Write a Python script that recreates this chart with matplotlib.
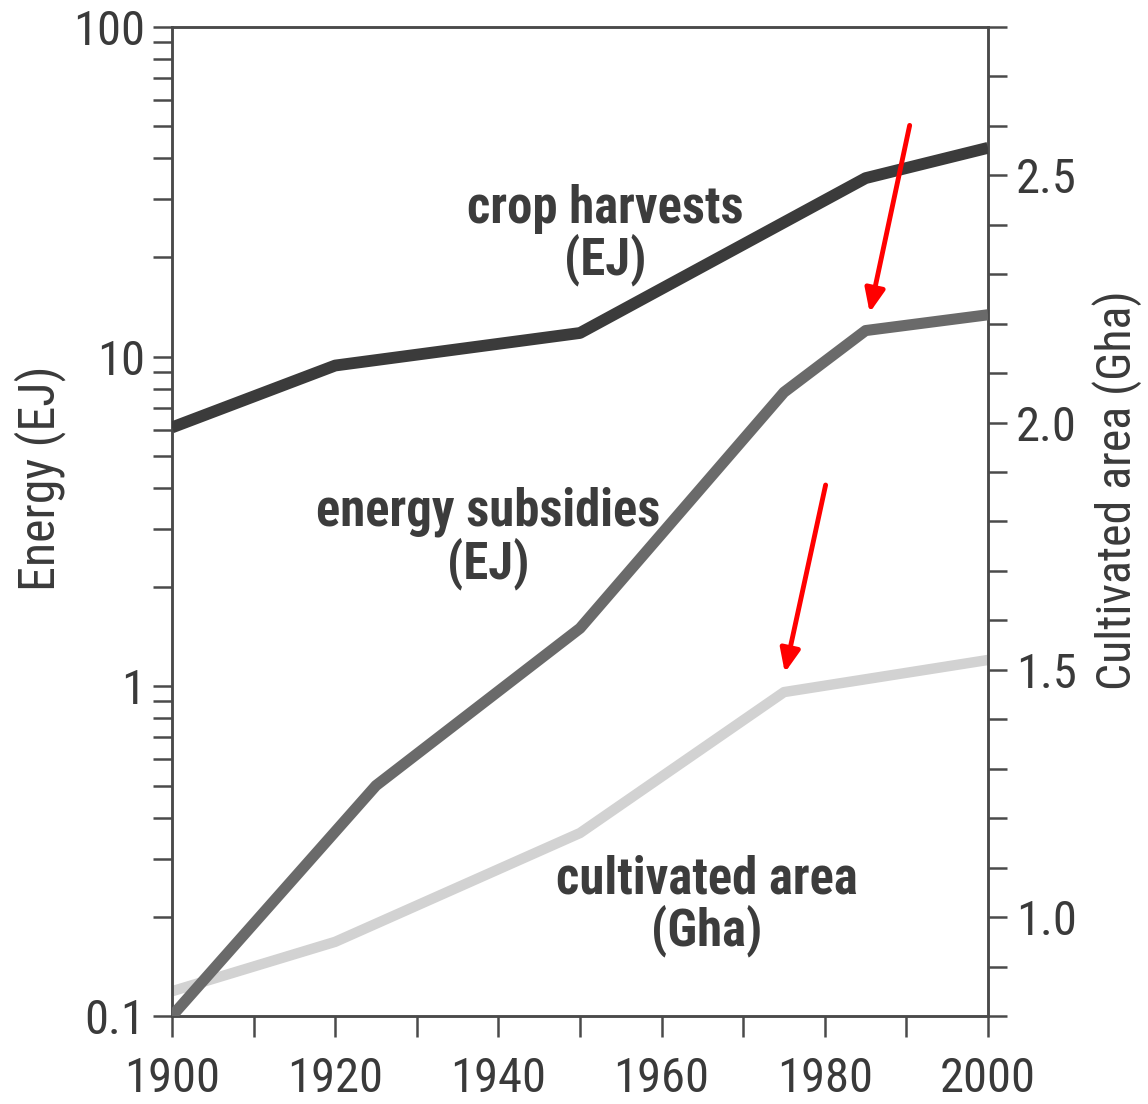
import matplotlib
matplotlib.use("Agg")
import matplotlib.pyplot as plt
import matplotlib.ticker as mticker
import numpy as np

# ---- data ----
crop_years = [1900, 1920, 1950, 1985, 2000]
crop_ej = [6.1, 9.4, 11.8, 34.8, 43.0]

subs_years = [1900, 1925, 1950, 1975, 1985, 2000]
subs_ej = [0.1, 0.5, 1.5, 7.8, 12.0, 13.4]

area_years = [1900, 1920, 1950, 1975, 2000]
area_gha = [0.85, 0.95, 1.17, 1.455, 1.52]

x_ticks = [1900, 1920, 1940, 1960, 1980, 2000]
left_ticks = [0.1, 1, 10, 100]
left_labels = ["0.1", "1", "10", "100"]
right_ticks = [1.0, 1.5, 2.0, 2.5]
right_labels = ["1.0", "1.5", "2.0", "2.5"]

# arrows: (tail_year, tail_EJ, head_year, head_EJ)
arrows = [(1990.4, 50.3, 1985.5, 13.6), (1980.1, 4.08, 1975.1, 1.10)]

W, H = 1148, 1104
fig = plt.figure(figsize=(W / 100, H / 100), dpi=100)
fig.patch.set_facecolor("white")
L, R, B, T = 172, 988, 1016, 27
ax = fig.add_axes([L / W, 1 - B / H, (R - L) / W, (B - T) / H])

spine_c = "#4a4a4a"
txt_c = "#3a3a3a"
tick_font = ["Roboto Condensed", "DejaVu Sans"]
tick_size = 35

ax.set_yscale("log")
ax.set_ylim(0.1, 100)
ax.set_xlim(1900, 2000)

ax.plot(crop_years, crop_ej, color="#3b3b3b", lw=8.5, solid_capstyle="butt", solid_joinstyle="round", zorder=3)
ax.plot(subs_years, subs_ej, color="#6a6a6a", lw=8.0, solid_capstyle="butt", solid_joinstyle="round", zorder=3)

ax2 = ax.twinx()
ax2.set_ylim(0.8, 2.8)
ax2.plot(area_years, area_gha, color="#d2d2d2", lw=7.5, solid_capstyle="butt", solid_joinstyle="round", zorder=2)
ax.set_zorder(ax2.get_zorder() + 1)
ax.patch.set_visible(False)

for a in (ax, ax2):
    for s in a.spines.values():
        s.set_color(spine_c)
        s.set_linewidth(1.8)

# x ticks
ax.set_xticks(x_ticks)
ax.set_xticklabels([str(v) for v in x_ticks], fontfamily=tick_font, fontsize=tick_size, color=txt_c)
ax.xaxis.set_minor_locator(mticker.MultipleLocator(10))
ax.tick_params(axis="x", which="both", direction="out", length=15, width=1.8, color=spine_c, pad=14)

# left log ticks
ax.yaxis.set_major_locator(mticker.FixedLocator(left_ticks))
ax.yaxis.set_major_formatter(mticker.FixedFormatter(left_labels))
ax.yaxis.set_minor_locator(mticker.LogLocator(base=10, subs=np.arange(2, 10)))
ax.yaxis.set_minor_formatter(mticker.NullFormatter())
ax.tick_params(axis="y", which="both", direction="out", length=14, width=1.8, color=spine_c, pad=5,
               labelsize=tick_size, labelcolor=txt_c)
for lab in ax.get_yticklabels():
    lab.set_fontfamily(tick_font)

# right ticks
ax2.set_yticks(right_ticks)
ax2.set_yticklabels(right_labels, fontfamily=tick_font, fontsize=tick_size, color=txt_c)
ax2.yaxis.set_minor_locator(mticker.MultipleLocator(0.1))
ax2.tick_params(axis="y", which="both", direction="out", length=14, width=1.8, color=spine_c, pad=6)

# axis labels
fig.text(40 / W, 1 - 478 / H, "Energy (EJ)", rotation=90, ha="center", va="center",
         fontfamily=tick_font, fontsize=36, color=txt_c)
fig.text(1117 / W, 1 - 490 / H, "Cultivated area (Gha)", rotation=90, ha="center", va="center",
         fontfamily=tick_font, fontsize=34.5, color=txt_c)

# in-plot labels
lab_kw = dict(ha="center", va="center", fontfamily=["Roboto Condensed", "DejaVu Sans"], fontweight="bold",
              fontsize=36.5, color="#3c3c3c", linespacing=1.0, transform=ax.transAxes, zorder=5)
ax.text((605 - L) / (R - L), (B - 235) / (B - T), "crop harvests\n(EJ)", **lab_kw)
ax.text((488 - L) / (R - L), (B - 538) / (B - T), "energy subsidies\n(EJ)", **lab_kw)
ax.text((707 - L) / (R - L), (B - 906) / (B - T), "cultivated area\n(Gha)", **lab_kw)

# red arrows
for tx, ty, hx, hy in arrows:
    ax.annotate("", xy=(hx, hy), xytext=(tx, ty),
                arrowprops=dict(arrowstyle="-|>,head_length=1.4,head_width=0.6", color="#ff0000",
                                lw=3.5, shrinkA=0, shrinkB=0), zorder=6)

fig.savefig("out.png", dpi=100, facecolor="white")
